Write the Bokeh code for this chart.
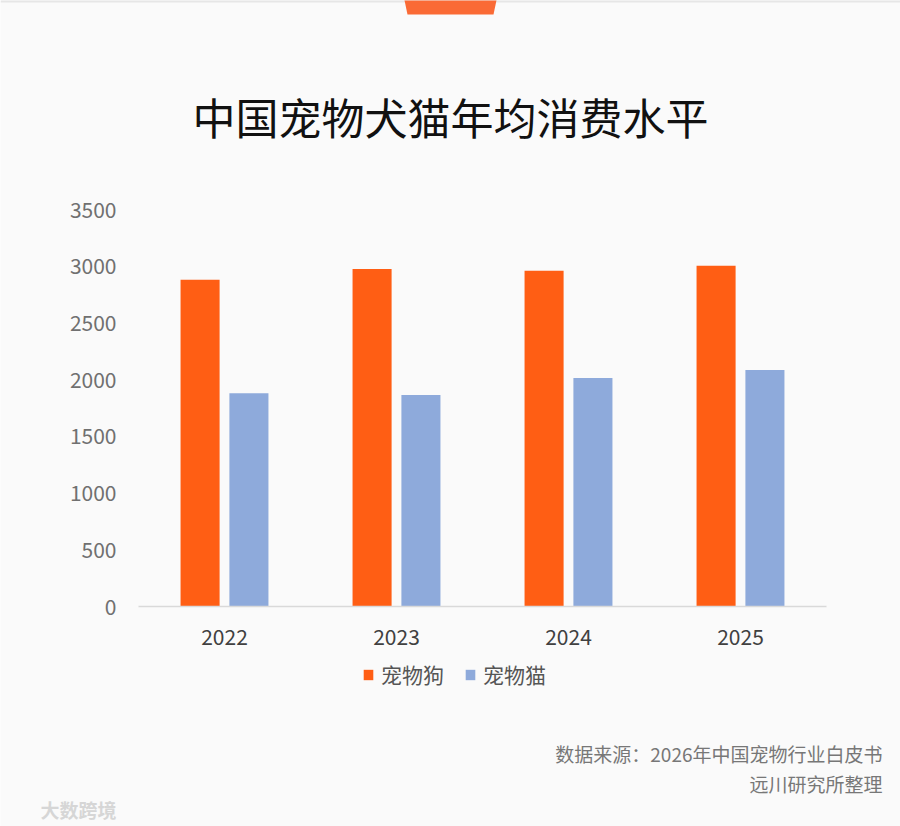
from bokeh.plotting import figure
from bokeh.models import (ColumnDataSource, Range1d, Legend, LegendItem, FixedTicker,
                          Label, PolyAnnotation)
from bokeh.transform import dodge
from bokeh.embed import file_html
from bokeh.resources import INLINE

years = ["2022", "2023", "2024", "2025"]
dog = [2880, 2975, 2960, 3005]
cat = [1880, 1865, 2015, 2085]
y_ticks = [0, 500, 1000, 1500, 2000, 2500, 3000, 3500]
series_names = ["宠物狗", "宠物猫"]
title_text = "中国宠物犬猫年均消费水平"
source_lines = ["数据来源：2026年中国宠物行业白皮书", "远川研究所整理"]
watermark = "大数跨境"

FONT = "Noto Sans CJK SC"
BG = "#fafafa"
W, H = 900, 826

xs = list(range(len(years)))
src = ColumnDataSource(dict(x=xs, dog=dog, cat=cat))

# frame covers the whole canvas; ranges chosen so the plotting area sits at
# x 138..826 px and y 209..606 px
p = figure(x_range=Range1d(-224 / 172, (W - 224) / 172),
           y_range=Range1d(-(H - 606) * 3500 / 397, 606 * 3500 / 397),
           width=W, height=H, min_border=0,
           output_backend="svg", toolbar_location=None)
p.background_fill_color = BG
p.border_fill_color = BG
p.outline_line_color = None
p.xgrid.grid_line_color = None
p.ygrid.grid_line_color = None

r1 = p.vbar(x=dodge("x", -0.142), top="dog", width=0.227,
            source=src, fill_color="#ff5e14", line_color=None)
r2 = p.vbar(x=dodge("x", 0.142), top="cat", width=0.227,
            source=src, fill_color="#8eaadb", line_color=None)

# y axis
ya = p.yaxis[0]
ya.fixed_location = -0.5
ya.bounds = (0, 3500)
ya.ticker = FixedTicker(ticks=y_ticks)
ya.axis_line_color = None
ya.major_tick_line_color = None
ya.minor_tick_line_color = None
ya.major_tick_out = 0
ya.major_tick_in = 0
ya.major_label_standoff = 22
ya.major_label_text_font = FONT
ya.major_label_text_font_size = "21px"
ya.major_label_text_color = "#707070"

# x axis
xa = p.xaxis[0]
xa.fixed_location = 0
xa.bounds = (-0.5, len(years) - 0.5)
xa.ticker = FixedTicker(ticks=xs)
xa.major_label_overrides = {i: y for i, y in zip(xs, years)}
xa.axis_line_color = "#d9d9d9"
xa.axis_line_width = 1.5
xa.major_tick_line_color = None
xa.minor_tick_line_color = None
xa.major_tick_out = 0
xa.major_tick_in = 0
xa.major_label_standoff = 22
xa.major_label_text_font = FONT
xa.major_label_text_font_size = "21px"
xa.major_label_text_color = "#404040"

legend = Legend(items=[LegendItem(label=series_names[0], renderers=[r1]),
                       LegendItem(label=series_names[1], renderers=[r2])],
                orientation="horizontal", location=(362, H - 689),
                glyph_width=12, glyph_height=13, label_height=20, label_standoff=7,
                spacing=20, padding=0, margin=0,
                border_line_color=None, background_fill_alpha=0,
                label_text_font=FONT, label_text_font_size="21px",
                label_text_color="#555555")
p.add_layout(legend)

def lab(text, x, y, size, color, align="left", style="normal"):
    p.add_layout(Label(x=x, y=H - y, x_units="screen", y_units="screen", text=text,
                       text_align=align, text_baseline="middle", text_font=FONT,
                       text_font_size=size, text_font_style=style, text_color=color))

lab(title_text, 450, 115, "43px", "#111111", "center")
lab(source_lines[0], 882, 753, "19px", "#777777", "right")
lab(source_lines[1], 882, 783, "19px", "#777777", "right")
lab(watermark, 40, 809, "19px", "#d6d6d6", "left", "bold")

# decorative tab and top strip
p.add_layout(PolyAnnotation(xs=[403, 497, 493, 407], ys=[H + 5, H + 5, H - 14, H - 14],
                            xs_units="screen", ys_units="screen",
                            fill_color="#fa6a35", fill_alpha=1, line_color=None))
p.add_layout(PolyAnnotation(xs=[0, W, W, 0], ys=[H + 5, H + 5, H - 2, H - 2],
                            xs_units="screen", ys_units="screen",
                            fill_color="#e6e6e6", fill_alpha=1, line_color=None,
                            level="underlay"))

open("out.html", "w").write(file_html(p, INLINE))
